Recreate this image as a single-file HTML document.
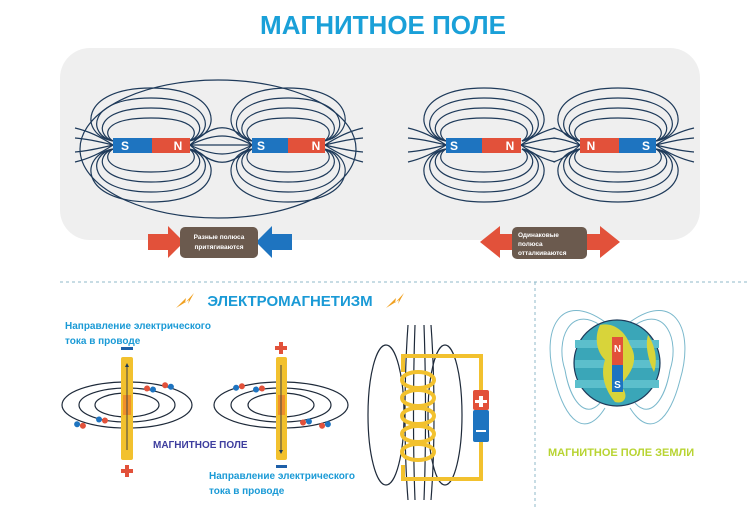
<!DOCTYPE html>
<html><head><meta charset="utf-8"><style>
body{margin:0;background:#fff;}
svg{display:block;font-family:"Liberation Sans",sans-serif;}
</style></head><body>
<svg width="750" height="510" viewBox="0 0 750 510" xmlns="http://www.w3.org/2000/svg">
<defs>
<marker id="a" viewBox="0 0 6 6" refX="3" refY="3" markerWidth="4" markerHeight="4" orient="auto"><path d="M0,0L6,3L0,6z" fill="#1e3a5a"/></marker>
<g id="loops" fill="none" stroke="#1e3a5a" stroke-width="1.2">
<path d="M0,-4 C-10,-10 -10,-27 38,-27 C86,-27 86,-10 76,-4"/>
<path d="M0,-4 C-18,-10 -18,-37 38,-37 C94,-37 94,-10 76,-4"/>
<path d="M0,-4 C-26,-10 -26,-47 38,-47 C102,-47 102,-10 76,-4"/>
<path d="M0,-4 C-34,-10 -34,-57 38,-57 C110,-57 110,-10 76,-4"/>
<path d="M0,4 C-10,10 -10,27 38,27 C86,27 86,10 76,4"/>
<path d="M0,4 C-18,10 -18,37 38,37 C94,37 94,10 76,4"/>
<path d="M0,4 C-26,10 -26,47 38,47 C102,47 102,10 76,4"/>
<path d="M0,4 C-34,10 -34,57 38,57 C110,57 110,10 76,4"/>
</g>
<g id="fanL" fill="none" stroke="#1e3a5a" stroke-width="1.2">
<path d="M0,0 C-12,-8 -25,-14 -38,-17"/>
<path d="M0,0 C-12,-3 -25,-6 -38,-7"/>
<path d="M0,0 C-12,3 -25,6 -38,7"/>
<path d="M0,0 C-12,8 -25,14 -38,17"/>
</g>
</defs>
<text x="383" y="34" text-anchor="middle" font-size="26" font-weight="bold" fill="#1aa0d8">МАГНИТНОЕ ПОЛЕ</text>
<rect x="60" y="48" width="640" height="192" rx="30" fill="#efefef"/>

<g fill="none" stroke="#1e3a5a" stroke-width="1.2">
<ellipse cx="218" cy="149" rx="138" ry="69"/>
<path d="M190,145 C215,122 230,122 252,145"/>
<path d="M190,145 C215,133 230,133 252,145"/>
<path d="M190,145 L252,145"/>
<path d="M190,145 C215,157 230,157 252,145"/>
<path d="M190,145 C215,168 230,168 252,145"/>
</g>
<use href="#loops" transform="translate(113,145)"/>
<use href="#loops" transform="translate(252,145) scale(0.95,1)"/>
<use href="#loops" transform="translate(446,145)"/>
<use href="#loops" transform="translate(580,145)"/>
<use href="#fanL" transform="translate(113,145)"/>
<use href="#fanL" transform="translate(325,145) scale(-1,1)"/>
<use href="#fanL" transform="translate(446,145)"/>
<use href="#fanL" transform="translate(521,145) scale(-0.9,1)"/>
<use href="#fanL" transform="translate(580,145) scale(0.7,1)"/>
<use href="#fanL" transform="translate(656,145) scale(-1,1)"/>

<g font-size="12" font-weight="bold" fill="#fff" text-anchor="middle">
<rect x="113" y="138" width="39" height="15" fill="#1e74c0"/><rect x="152" y="138" width="38" height="15" fill="#e2513a"/>
<text x="125" y="150">S</text><text x="178" y="150">N</text>
<rect x="252" y="138" width="36" height="15" fill="#1e74c0"/><rect x="288" y="138" width="37" height="15" fill="#e2513a"/>
<text x="261" y="150">S</text><text x="316" y="150">N</text>
<rect x="446" y="138" width="36" height="15" fill="#1e74c0"/><rect x="482" y="138" width="39" height="15" fill="#e2513a"/>
<text x="454" y="150">S</text><text x="510" y="150">N</text>
<rect x="580" y="138" width="39" height="15" fill="#e2513a"/><rect x="619" y="138" width="37" height="15" fill="#1e74c0"/>
<text x="591" y="150">N</text><text x="646" y="150">S</text>
</g>
<path d="M148,234 H168 V226 L184,242 L168,258 V250 H148z" fill="#e2513a"/>
<path d="M292,234 H272 V226 L256,242 L272,258 V250 H292z" fill="#1e74c0"/>
<rect x="180" y="227" width="78" height="31" rx="5" fill="#6b5a4e"/>
<text x="219" y="239" font-size="6.5" font-weight="bold" fill="#fff" text-anchor="middle">Разные полюса</text>
<text x="219" y="249" font-size="6.5" font-weight="bold" fill="#fff" text-anchor="middle">притягиваются</text>
<path d="M516,234 H500 V226 L480,242 L500,258 V250 H516z" fill="#e2513a"/>
<path d="M584,234 H600 V226 L620,242 L600,258 V250 H584z" fill="#e2513a"/>
<rect x="512" y="227" width="75" height="32" rx="5" fill="#6b5a4e"/>
<text x="518" y="237" font-size="6.5" font-weight="bold" fill="#fff">Одинаковые</text>
<text x="518" y="246" font-size="6.5" font-weight="bold" fill="#fff">полюса</text>
<text x="518" y="255" font-size="6.5" font-weight="bold" fill="#fff">отталкиваются</text>

<line x1="60" y1="282" x2="750" y2="282" stroke="#8fb8c8" stroke-dasharray="3,3"/>
<line x1="535" y1="282" x2="535" y2="510" stroke="#8fb8c8" stroke-dasharray="3,3"/>

<text x="290" y="306" font-size="15" font-weight="bold" fill="#1a9ad6" text-anchor="middle">ЭЛЕКТРОМАГНЕТИЗМ</text>
<path d="M176,308 L186,298 L185,303 L194,293 L188,304 L189,300z" fill="#f0a020"/>
<path d="M386,308 L396,298 L395,303 L404,293 L398,304 L399,300z" fill="#f0a020"/>

<g font-size="10" font-weight="bold" fill="#1a9ad6">
<text x="65" y="329">Направление электрического</text>
<text x="65" y="344">тока в проводе</text>
<text x="209" y="479">Направление электрического</text>
<text x="209" y="494">тока в проводе</text>
</g>
<text x="153" y="448" font-size="10" font-weight="bold" fill="#3d3d9e">МАГНИТНОЕ ПОЛЕ</text>

<g fill="none" stroke="#1e2a3a" stroke-width="1.2">
<ellipse cx="127" cy="405" rx="65" ry="23"/>
<ellipse cx="127" cy="405" rx="48" ry="17"/>
<ellipse cx="127" cy="405" rx="32" ry="12"/>
<ellipse cx="281" cy="405" rx="67" ry="23"/>
<ellipse cx="281" cy="405" rx="50" ry="17"/>
<ellipse cx="281" cy="405" rx="33" ry="12"/>
</g>
<rect x="121" y="357" width="12" height="103" rx="2" fill="#f2c12e"/>
<rect x="123" y="395" width="8" height="20" fill="#f0902a"/>
<rect x="276" y="357" width="11" height="103" rx="2" fill="#f2c12e"/>
<rect x="278" y="395" width="7" height="20" fill="#f0902a"/>
<line x1="127" y1="450" x2="127" y2="365" stroke="#444" marker-end="url(#a)"/>
<line x1="281" y1="365" x2="281" y2="452" stroke="#444" marker-end="url(#a)"/>
<rect x="121" y="347" width="12" height="3" fill="#1e5fa8"/>
<rect x="276" y="465" width="11" height="3" fill="#1e5fa8"/>
<path d="M125,465h4v4h4v4h-4v4h-4v-4h-4v-4h4z" fill="#e2513a"/>
<path d="M279,342h4v4h4v4h-4v4h-4v-4h-4v-4h4z" fill="#e2513a"/>
<g>
<g transform="translate(80,425) rotate(15)"><rect x="-6" y="-3" width="6" height="6" rx="3" fill="#1e74c0"/><rect x="0" y="-3" width="6" height="6" rx="3" fill="#e2513a"/></g>
<g transform="translate(102,420) rotate(10)"><rect x="-6" y="-3" width="6" height="6" rx="3" fill="#1e74c0"/><rect x="0" y="-3" width="6" height="6" rx="3" fill="#e2513a"/></g>
<g transform="translate(150,389) rotate(10)"><rect x="-6" y="-3" width="6" height="6" rx="3" fill="#e2513a"/><rect x="0" y="-3" width="6" height="6" rx="3" fill="#1e74c0"/></g>
<g transform="translate(168,386) rotate(15)"><rect x="-6" y="-3" width="6" height="6" rx="3" fill="#e2513a"/><rect x="0" y="-3" width="6" height="6" rx="3" fill="#1e74c0"/></g>
<g transform="translate(239,387) rotate(-15)"><rect x="-6" y="-3" width="6" height="6" rx="3" fill="#1e74c0"/><rect x="0" y="-3" width="6" height="6" rx="3" fill="#e2513a"/></g>
<g transform="translate(259,389) rotate(-10)"><rect x="-6" y="-3" width="6" height="6" rx="3" fill="#1e74c0"/><rect x="0" y="-3" width="6" height="6" rx="3" fill="#e2513a"/></g>
<g transform="translate(306,422) rotate(-10)"><rect x="-6" y="-3" width="6" height="6" rx="3" fill="#e2513a"/><rect x="0" y="-3" width="6" height="6" rx="3" fill="#1e74c0"/></g>
<g transform="translate(325,425) rotate(-15)"><rect x="-6" y="-3" width="6" height="6" rx="3" fill="#e2513a"/><rect x="0" y="-3" width="6" height="6" rx="3" fill="#1e74c0"/></g>
</g>

<g fill="none" stroke="#1e2a3a" stroke-width="1.2">
<ellipse cx="386" cy="415" rx="18" ry="70"/>
<ellipse cx="445" cy="415" rx="17" ry="70"/>
<path d="M408,325 C404,380 404,450 408,500"/>
<path d="M415,325 C413,380 413,450 415,500"/>
<path d="M424,325 C426,380 426,450 424,500"/>
<path d="M431,325 C435,380 435,450 431,500"/>
</g>
<path d="M403,372 V356 H481 V390 M481,442 V479 H403 V465" fill="none" stroke="#f2c12e" stroke-width="4"/>
<g fill="none" stroke="#f2c12e" stroke-width="4">
<ellipse cx="418" cy="380" rx="16" ry="8"/>
<ellipse cx="418" cy="398" rx="16" ry="8"/>
<ellipse cx="418" cy="416" rx="16" ry="8"/>
<ellipse cx="418" cy="434" rx="16" ry="8"/>
<ellipse cx="418" cy="452" rx="16" ry="8"/>
</g>
<rect x="473" y="390" width="16" height="20" rx="2" fill="#e2513a"/>
<rect x="473" y="410" width="16" height="32" rx="2" fill="#1e74c0"/>
<path d="M479,396h4v4h4v3h-4v4h-4v-4h-4v-3h4z" fill="#fff"/>
<rect x="476" y="430" width="10" height="2" fill="#fff"/>

<g fill="none" stroke="#7ab8cc" stroke-width="1">
<path d="M605,322 C560,290 540,330 555,380 C565,420 585,440 605,408"/>
<path d="M600,325 C570,305 555,340 565,370 C570,400 585,420 600,403"/>
<path d="M630,322 C675,290 695,330 680,380 C670,420 650,440 630,408"/>
<path d="M635,325 C665,305 680,340 670,370 C665,400 650,420 635,403"/>
</g>
<circle cx="617" cy="363" r="43" fill="#3aa6b8" stroke="#1e3a5a" stroke-width="1.2"/>
<rect x="575" y="340" width="84" height="8" fill="#5cbfcc"/>
<rect x="575" y="360" width="84" height="8" fill="#5cbfcc"/>
<rect x="575" y="380" width="84" height="8" fill="#5cbfcc"/>
<path d="M600,325 C612,322 625,330 630,345 C640,360 630,375 620,385 C630,395 625,405 615,402 C605,390 600,375 605,360 C595,350 595,335 600,325z" fill="#d8d43a"/>
<path d="M648,335 C655,345 658,360 654,372 C648,360 645,345 648,335z" fill="#d8d43a"/>
<rect x="612" y="337" width="11" height="28" fill="#e2513a"/>
<rect x="612" y="365" width="11" height="27" fill="#1e74c0"/>
<text x="617.5" y="352" font-size="10" font-weight="bold" fill="#fff" text-anchor="middle">N</text>
<text x="617.5" y="388" font-size="10" font-weight="bold" fill="#fff" text-anchor="middle">S</text>
<text x="548" y="456" font-size="11" font-weight="bold" fill="#b8d432">МАГНИТНОЕ ПОЛЕ ЗЕМЛИ</text>
</svg>
</body></html>
